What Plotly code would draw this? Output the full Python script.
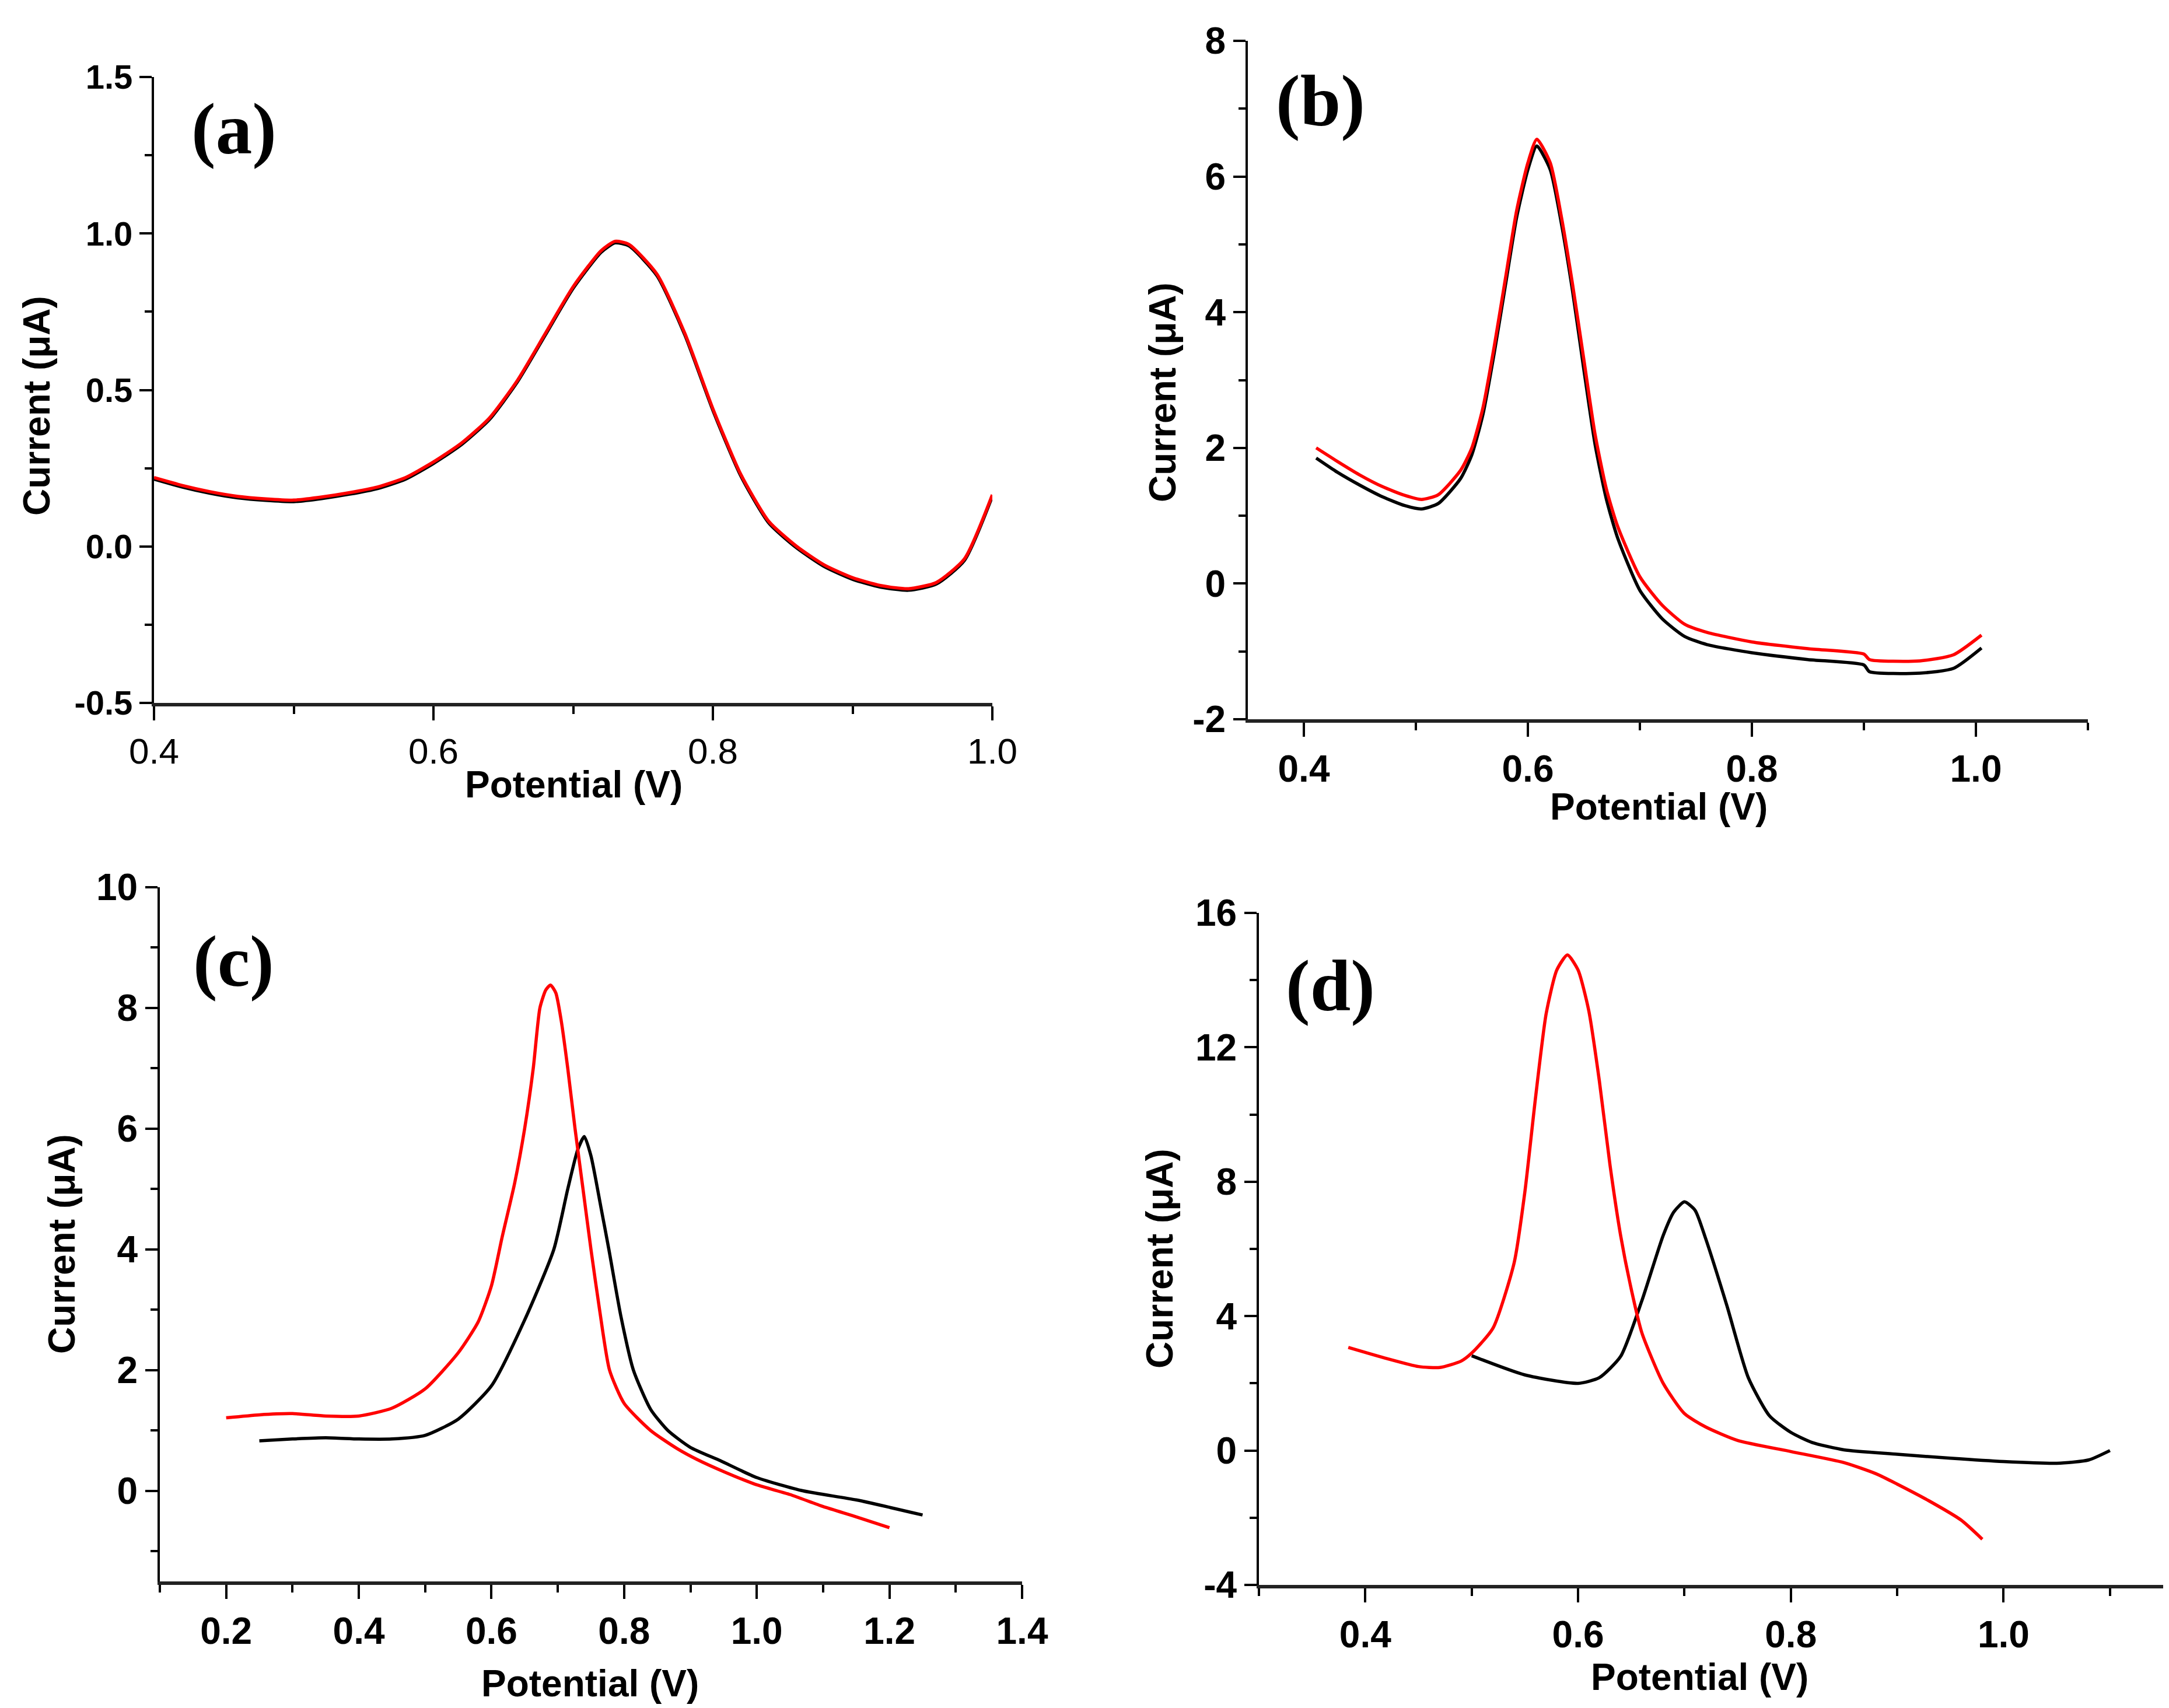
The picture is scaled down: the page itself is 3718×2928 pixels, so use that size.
import plotly.graph_objects as go

W, H = 3718, 2928

# ---- panel (a) ----
a_x = [0.40, 0.42, 0.44, 0.46, 0.48, 0.50, 0.52, 0.54, 0.56, 0.58, 0.60, 0.62, 0.64,
       0.66, 0.68, 0.70, 0.72, 0.73, 0.74, 0.76, 0.78, 0.80, 0.82, 0.84, 0.86, 0.88,
       0.90, 0.92, 0.94, 0.96, 0.98, 1.00]
a_red = [0.22, 0.195, 0.175, 0.16, 0.152, 0.148, 0.158, 0.172, 0.19, 0.22, 0.27, 0.33, 0.41,
         0.53, 0.68, 0.83, 0.945, 0.975, 0.965, 0.87, 0.68, 0.44, 0.23, 0.08, 0.0, -0.06,
         -0.1, -0.125, -0.135, -0.115, -0.04, 0.165]
a_black = [0.215, 0.19, 0.17, 0.155, 0.147, 0.143, 0.153, 0.167, 0.185, 0.215, 0.265, 0.325, 0.405,
           0.525, 0.675, 0.825, 0.94, 0.97, 0.96, 0.865, 0.675, 0.435, 0.225, 0.075, -0.005, -0.065,
           -0.105, -0.13, -0.14, -0.12, -0.045, 0.16]

# ---- panel (b) ----
b_x = [0.411, 0.43, 0.45, 0.47, 0.49, 0.505, 0.52, 0.54, 0.55, 0.56, 0.57, 0.58, 0.59,
       0.60, 0.608, 0.62, 0.63, 0.64, 0.65, 0.66, 0.67, 0.68, 0.70, 0.72, 0.74, 0.76,
       0.80, 0.85, 0.90, 0.905, 0.95, 0.98, 1.005]
b_red = [2.0, 1.8, 1.6, 1.43, 1.3, 1.24, 1.31, 1.67, 2.0, 2.6, 3.5, 4.5, 5.5,
         6.2, 6.55, 6.2, 5.4, 4.4, 3.3, 2.2, 1.4, 0.85, 0.1, -0.32, -0.6, -0.72,
         -0.86, -0.96, -1.04, -1.12, -1.14, -1.05, -0.76]
b_black = [1.85, 1.64, 1.45, 1.28, 1.15, 1.1, 1.18, 1.55, 1.9, 2.5, 3.4, 4.4, 5.4,
           6.1, 6.45, 6.1, 5.3, 4.3, 3.15, 2.05, 1.25, 0.68, -0.1, -0.52, -0.78, -0.9,
           -1.02, -1.12, -1.2, -1.3, -1.32, -1.25, -0.95]

# ---- panel (c) ----
c_red_x = [0.20, 0.25, 0.30, 0.35, 0.40, 0.45, 0.50, 0.55, 0.58, 0.60, 0.616, 0.635,
           0.65, 0.663, 0.673, 0.682, 0.689, 0.697, 0.705, 0.715, 0.726, 0.738, 0.75,
           0.763, 0.778, 0.80, 0.84, 0.88, 0.91, 0.95, 1.00, 1.05, 1.10, 1.15, 1.20]
c_red = [1.21, 1.26, 1.28, 1.24, 1.24, 1.37, 1.69, 2.29, 2.8, 3.4, 4.2, 5.1,
         6.0, 7.0, 8.0, 8.3, 8.38, 8.25, 7.8, 7.0, 6.0, 5.0, 4.0,
         3.0, 2.0, 1.45, 1.0, 0.7, 0.52, 0.32, 0.1, -0.06, -0.26, -0.43, -0.61]
c_black_x = [0.25, 0.30, 0.35, 0.40, 0.45, 0.50, 0.55, 0.60, 0.65, 0.694, 0.715, 0.73,
             0.74, 0.75, 0.765, 0.777, 0.795, 0.814, 0.84, 0.866, 0.90, 0.945, 1.00,
             1.07, 1.15, 1.25]
c_black = [0.83, 0.86, 0.88, 0.86, 0.86, 0.92, 1.19, 1.74, 2.83, 4.0, 5.0, 5.65,
           5.87, 5.55, 4.7, 4.0, 2.9, 2.0, 1.35, 1.0, 0.72, 0.5, 0.22,
           0.0, -0.15, -0.4]

# ---- panel (d) ----
d_red_x = [0.384, 0.42, 0.45, 0.47, 0.49, 0.50, 0.52, 0.54, 0.55, 0.56, 0.57, 0.58,
           0.59, 0.60, 0.61, 0.62, 0.63, 0.64, 0.65, 0.66, 0.68, 0.70, 0.72, 0.75,
           0.80, 0.85, 0.88, 0.90, 0.93, 0.96, 0.98]
d_red = [3.07, 2.74, 2.5, 2.47, 2.66, 2.9, 3.64, 5.6, 7.7, 10.5, 13.0, 14.3,
         14.75, 14.3, 13.1, 11.0, 8.5, 6.4, 4.8, 3.5, 2.0, 1.1, 0.7, 0.3,
         -0.03, -0.36, -0.69, -1.0, -1.5, -2.07, -2.64]
d_black_x = [0.50, 0.55, 0.60, 0.62, 0.64, 0.66, 0.68, 0.69, 0.70, 0.71, 0.72, 0.74,
             0.76, 0.78, 0.80, 0.82, 0.85, 0.90, 0.95, 1.00, 1.05, 1.08, 1.10]
d_black = [2.82, 2.25, 2.0, 2.17, 2.8, 4.46, 6.4, 7.1, 7.4, 7.15, 6.3, 4.3,
           2.17, 1.03, 0.54, 0.24, 0.02, -0.11, -0.23, -0.33, -0.38, -0.28, 0.0]

# tick labels
a_yticks = [-0.5, 0.0, 0.5, 1.0, 1.5]
a_xticks = [0.4, 0.6, 0.8, 1.0]
b_yticks = [-2, 0, 2, 4, 6, 8]
b_xticks = [0.4, 0.6, 0.8, 1.0]
c_yticks = [0, 2, 4, 6, 8, 10]
c_xticks = [0.2, 0.4, 0.6, 0.8, 1.0, 1.2, 1.4]
d_yticks = [-4, 0, 4, 8, 12, 16]
d_xticks = [0.4, 0.6, 0.8, 1.0]


def lbl(v, fmt):
    return format(v, fmt).replace("\u2212", "-")


fig = go.Figure()

panels = [
    # name, traces, px box (left, right, top, bottom), ranges, ticks, minor dticks, tick size
    ("1", [(a_x, a_black, "black"), (a_x, a_red, "red")], (256, 1693, 124, 1197),
     [0.4, 1.0], [-0.5, 1.5], a_xticks, ".1f", a_yticks, ".1f", 0.1, 0.25, 58),
    ("2", [(b_x, b_black, "black"), (b_x, b_red, "red")], (2131, 3571, 62, 1225),
     [0.35, 1.1], [-2, 8], b_xticks, ".1f", b_yticks, "d", 0.1, 1, 64),
    ("3", [(c_black_x, c_black, "black"), (c_red_x, c_red, "red")], (266, 1744, 1513, 2703),
     [0.1, 1.4], [-1.5, 10], c_xticks, ".1f", c_yticks, "d", 0.1, 1, 64),
    ("4", [(d_black_x, d_black, "black"), (d_red_x, d_red, "red")], (2150, 3700, 1557, 2709),
     [0.3, 1.15], [-4, 16], d_xticks, ".1f", d_yticks, "d", 0.1, 2, 64),
]

for n, traces, box, xr, yr, xt, xf, yt, yf, xminor, yminor, fs in panels:
    xa = "x" if n == "1" else "x" + n
    ya = "y" if n == "1" else "y" + n
    for xs, ys, col in traces:
        fig.add_trace(go.Scatter(x=xs, y=ys, mode="lines", xaxis=xa, yaxis=ya,
                                 line=dict(color=col, width=5.5, shape="spline", smoothing=0.6),
                                 showlegend=False, hoverinfo="skip"))
    left, right, top, bottom = box
    yfont = dict(family="Liberation Sans, Arial", size=fs, color="black", weight="bold")
    xfont = dict(yfont)
    if n == "1":
        xfont.update(weight="normal", size=62)
    xkey = "xaxis" if n == "1" else "xaxis" + n
    ykey = "yaxis" if n == "1" else "yaxis" + n
    fig.update_layout({
        xkey: dict(domain=[left / W, right / W], anchor=ya, range=xr, automargin=False,
                   showline=True, linecolor="#222", linewidth=6, mirror=False,
                   showgrid=False, zeroline=False,
                   ticks="outside", ticklen=24, tickwidth=4, tickcolor="black",
                   tickvals=xt, ticktext=[lbl(v, xf) for v in xt], tickfont=xfont,
                   minor=dict(dtick=xminor, tick0=0, ticks="outside", ticklen=13,
                              tickwidth=4, tickcolor="black")),
        ykey: dict(domain=[1 - bottom / H, 1 - top / H], anchor=xa, range=yr, automargin=False,
                   showline=True, linecolor="black", linewidth=4, mirror=False,
                   showgrid=False, zeroline=False,
                   ticks="outside", ticklen=21, tickwidth=4, tickcolor="black",
                   tickvals=yt, ticktext=[lbl(v, yf) for v in yt], tickfont=yfont,
                   minor=dict(dtick=yminor, tick0=0, ticks="outside", ticklen=12,
                              tickwidth=4, tickcolor="black")),
    })

title_font = dict(family="Liberation Sans, Arial", size=64, color="black", weight="bold")
label_font = dict(family="Liberation Serif, Times New Roman", size=125, color="black", weight="bold")

x_titles = [(975, 1337), (2835, 1375), (1003, 2878), (2905, 2867)]
y_titles = [(55, 688), (1985, 665), (98, 2125), (1980, 2150)]
panel_labels = [("(a)", 393, 213), ("(b)", 2255, 165), ("(c)", 392, 1640), ("(d)", 2272, 1682)]

for px, py in x_titles:
    fig.add_annotation(text="Potential (V)", x=px / W, y=1 - py / H, xref="paper", yref="paper",
                       showarrow=False, font=title_font, xanchor="center", yanchor="middle")
for px, py in y_titles:
    fig.add_annotation(text="Current (\u03bcA)", x=px / W, y=1 - py / H, xref="paper", yref="paper",
                       showarrow=False, font=title_font, textangle=-90,
                       xanchor="center", yanchor="middle")
for t, px, py in panel_labels:
    fig.add_annotation(text=t, x=px / W, y=1 - py / H, xref="paper", yref="paper",
                       showarrow=False, font=label_font, xanchor="center", yanchor="middle")

fig.update_layout(width=W, height=H, margin=dict(l=0, r=0, t=0, b=0),
                  paper_bgcolor="white", plot_bgcolor="white")

fig.write_html("out.html")
